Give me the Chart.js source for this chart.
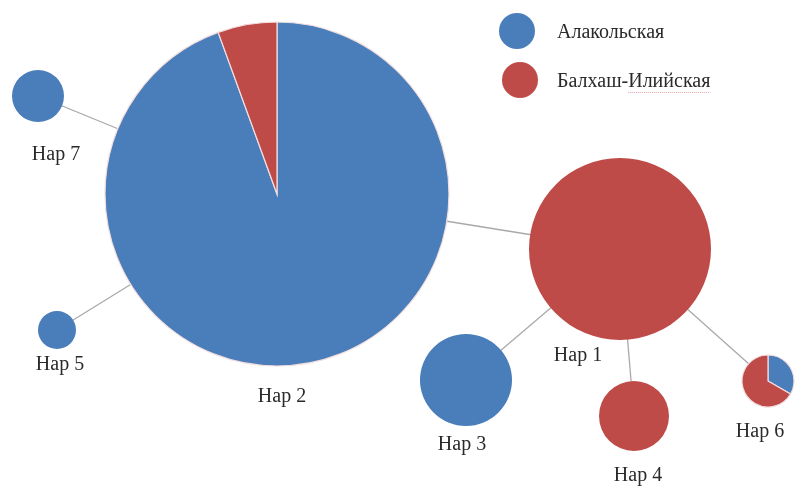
<!DOCTYPE html>
<html>
<head>
<meta charset="utf-8">
<script src="https://cdn.jsdelivr.net/npm/chart.js@4/dist/chart.umd.min.js"></script>
<style>
  html, body { margin: 0; padding: 0; background: #fff; }
  #wrap { width: 796px; height: 489px; }
</style>
</head>
<body>
<div id="wrap"><canvas id="net"></canvas></div>
<script>
// haplotypes and their layout in the network
const haps = ['Hap 1', 'Hap 2', 'Hap 3', 'Hap 4', 'Hap 5', 'Hap 6', 'Hap 7'];
const hapX = [620, 277, 466, 634, 57, 768, 38];
const hapY = [249, 194, 380, 416, 330, 381, 96];
const hapR = [91, 172, 46, 35, 19, 26, 26];

// counts per population
const populations = ['Алакольская', 'Балхаш-Илийская'];
const alakol   = [0, 17, 1, 0, 1, 1, 1];
const balkhash = [1, 1, 0, 1, 0, 2, 0];

// links between haplotypes (index pairs)
const links = [[6, 1], [4, 1], [1, 0], [0, 2], [0, 3], [0, 5]];

// label offsets from node centre
const labelDx = [-42, 5, -4, 4, 3, -8, 18];
const labelDy = [107, 203, 65, 60, 35, 51, 59];

const colors = ['#4a7ebb', '#be4b48'];
const font = '20px "Liberation Serif", "DejaVu Serif", serif';

const linkSets = links.map(([a, b]) => ({
  type: 'scatter',
  data: [{ x: hapX[a], y: hapY[a] }, { x: hapX[b], y: hapY[b] }],
  showLine: true,
  borderColor: '#a9a9a9',
  borderWidth: 1.3,
  pointRadius: 0,
  order: 2
}));

// draw each bubble as a pie of the two populations, plus labels and legend
const piePlugin = {
  id: 'pies',
  afterDatasetsDraw(chart) {
    const ctx = chart.ctx;
    const meta = chart.getDatasetMeta(0);
    meta.data.forEach((el, i) => {
      const r = hapR[i];
      const counts = [alakol[i], balkhash[i]];
      const total = counts[0] + counts[1];
      let start = -Math.PI / 2;
      counts.forEach((c, k) => {
        if (!c) return;
        const end = start + c / total * Math.PI * 2;
        ctx.beginPath();
        ctx.moveTo(el.x, el.y);
        ctx.arc(el.x, el.y, r, start, end);
        ctx.closePath();
        ctx.fillStyle = colors[k];
        ctx.fill();
        if (c < total) {
          ctx.strokeStyle = '#f3dede';
          ctx.lineWidth = 1.2;
          ctx.stroke();
        }
        start = end;
      });
      ctx.fillStyle = '#2a2a2a';
      ctx.font = font;
      ctx.textAlign = 'center';
      ctx.textBaseline = 'middle';
      ctx.fillText(haps[i], el.x + labelDx[i], el.y + labelDy[i]);
    });

    // legend
    populations.forEach((name, k) => {
      const y = 31 + k * 49;
      ctx.beginPath();
      ctx.arc(517 + k * 3, y, 18, 0, Math.PI * 2);
      ctx.fillStyle = colors[k];
      ctx.fill();
      ctx.fillStyle = '#2a2a2a';
      ctx.font = font;
      ctx.textAlign = 'left';
      ctx.textBaseline = 'middle';
      ctx.fillText(name, 557, y + 2);
    });

    // spell-check style dotted underline under the second entry
    const w0 = ctx.measureText('Балхаш-').width;
    const w1 = ctx.measureText('Балхаш-Илийская').width;
    ctx.save();
    ctx.strokeStyle = '#e7a3a8';
    ctx.lineWidth = 1;
    ctx.setLineDash([1, 1]);
    ctx.beginPath();
    ctx.moveTo(557 + w0, 92.5);
    ctx.lineTo(557 + w1, 92.5);
    ctx.stroke();
    ctx.restore();
  }
};

new Chart(document.getElementById('net'), {
  type: 'bubble',
  data: {
    datasets: [{
      data: haps.map((h, i) => ({ x: hapX[i], y: hapY[i], r: hapR[i] })),
      backgroundColor: 'rgba(0,0,0,0)',
      borderWidth: 0,
      hoverRadius: 0,
      clip: false,
      order: 1
    }, ...linkSets]
  },
  options: {
    responsive: true,
    maintainAspectRatio: false,
    animation: false,
    layout: { padding: 0, autoPadding: false },
    plugins: { legend: { display: false }, tooltip: { enabled: false } },
    scales: {
      x: { type: 'linear', min: 0, max: 796, display: false },
      y: { type: 'linear', min: 0, max: 489, reverse: true, display: false }
    }
  },
  plugins: [piePlugin]
});
</script>
</body>
</html>
